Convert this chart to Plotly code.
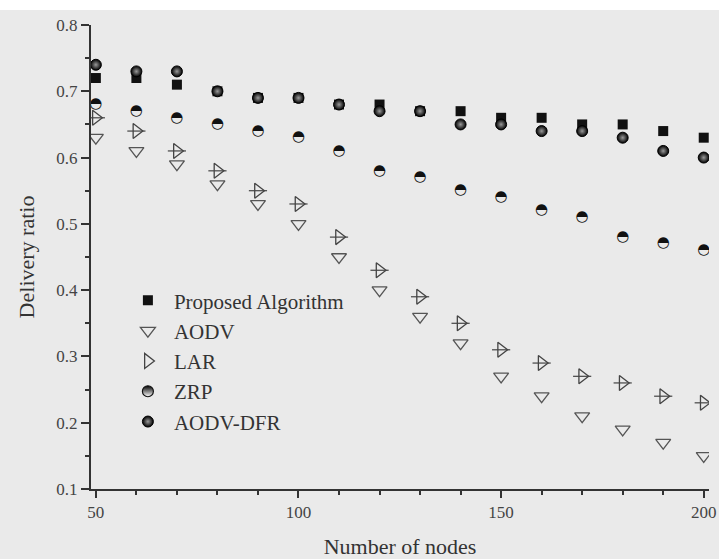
import plotly.graph_objects as go

nodes = [50, 60, 70, 80, 90, 100, 110, 120, 130, 140, 150, 160, 170, 180, 190, 200]
proposed = [0.72, 0.72, 0.71, 0.70, 0.69, 0.69, 0.68, 0.68, 0.67, 0.67, 0.66, 0.66, 0.65, 0.65, 0.64, 0.63]
aodv = [0.63, 0.61, 0.59, 0.56, 0.53, 0.50, 0.45, 0.40, 0.36, 0.32, 0.27, 0.24, 0.21, 0.19, 0.17, 0.15]
lar = [0.66, 0.64, 0.61, 0.58, 0.55, 0.53, 0.48, 0.43, 0.39, 0.35, 0.31, 0.29, 0.27, 0.26, 0.24, 0.23]
zrp = [0.68, 0.67, 0.66, 0.65, 0.64, 0.63, 0.61, 0.58, 0.57, 0.55, 0.54, 0.52, 0.51, 0.48, 0.47, 0.46]
aodv_dfr = [0.74, 0.73, 0.73, 0.70, 0.69, 0.69, 0.68, 0.67, 0.67, 0.65, 0.65, 0.64, 0.64, 0.63, 0.61, 0.60]

FONT = "Liberation Serif"
BG = "#eaeaea"
INK = "#333333"

fig = go.Figure()
fig.add_trace(go.Scatter(x=nodes, y=proposed, mode="markers", name="Proposed Algorithm",
                         marker=dict(symbol="square", size=10, color="#111111")))
fig.add_trace(go.Scatter(x=nodes, y=aodv, mode="markers", name="AODV",
                         marker=dict(symbol="triangle-down-open", size=13, color="#555555",
                                     line=dict(width=1.3))))
fig.add_trace(go.Scatter(x=nodes, y=lar, mode="markers", name="LAR",
                         marker=dict(symbol="triangle-right-open", size=13, color="#444444",
                                     line=dict(width=1.3))))
fig.add_trace(go.Scatter(x=nodes, y=lar, mode="markers", showlegend=False, hoverinfo="skip",
                         marker=dict(symbol="line-ew-open", size=13, color="#444444",
                                     line=dict(width=1.2))))
# ZRP drawn as half-filled circle glyphs; a marker-only proxy supplies its legend symbol
fig.add_trace(go.Scatter(x=nodes, y=zrp, mode="text", name="ZRP", text="\u25d3", showlegend=False,
                         textposition="middle center",
                         textfont=dict(family="DejaVu Sans", size=15, color="#111111")))
fig.add_trace(go.Scatter(x=[None], y=[None], mode="markers", name="ZRP",
                         marker=dict(symbol="circle", size=11, color="#000000",
                                     gradient=dict(type="vertical", color="#ffffff"),
                                     line=dict(color="#111111", width=1.2))))
fig.add_trace(go.Scatter(x=nodes, y=aodv_dfr, mode="markers", name="AODV-DFR",
                         marker=dict(symbol="circle", size=11, color="#000000",
                                     gradient=dict(type="radial", color="#9a9a9a"),
                                     line=dict(color="#000000", width=1))))

fig.update_layout(
    width=719, height=559,
    margin=dict(l=91, r=10, t=25, b=70),
    paper_bgcolor=BG, plot_bgcolor=BG,
    font=dict(family=FONT, color=INK, size=16),
    showlegend=True,
    legend=dict(x=0.05, y=0.45, xanchor="left", yanchor="top", bgcolor="rgba(0,0,0,0)",
                font=dict(family=FONT, size=21, color=INK), itemwidth=42,
                tracegroupgap=0),
    shapes=[dict(type="rect", xref="paper", yref="paper", x0=-0.2, x1=1.1,
                 y0=1 + 15 / 464, y1=1.2, fillcolor="white", line=dict(width=0), layer="below")],
)
fig.update_xaxes(range=[48.8, 201.3], tickvals=[50, 100, 150, 200], showgrid=False, zeroline=False,
                 showline=True, linecolor=INK, linewidth=2, ticks="outside", ticklen=7,
                 tickwidth=2, tickcolor=INK, ticklabeloverflow="allow", automargin=False,
                 minor=dict(dtick=10, tick0=50, ticks="outside", ticklen=4, tickwidth=1.5, tickcolor=INK),
                 tickfont=dict(family=FONT, size=17, color="#444444"),
                 title=dict(text="Number of nodes", font=dict(family=FONT, size=22, color=INK), standoff=20))
fig.update_yaxes(range=[0.1, 0.8], tickvals=[0.1, 0.2, 0.3, 0.4, 0.5, 0.6, 0.7, 0.8],
                 ticktext=["0.1", "0.2", "0.3", "0.4", "0.5", "0.6", "0.7", "0.8"],
                 showgrid=False, zeroline=False, automargin=False,
                 showline=True, linecolor=INK, linewidth=2, ticks="outside", ticklen=8,
                 tickwidth=2, tickcolor=INK,
                 minor=dict(dtick=0.05, tick0=0.1, ticks="outside", ticklen=4, tickwidth=1.5, tickcolor=INK),
                 tickfont=dict(family=FONT, size=17, color="#444444"),
                 title=dict(text="Delivery ratio", font=dict(family=FONT, size=22, color=INK), standoff=16))

fig.write_html("out.html")
